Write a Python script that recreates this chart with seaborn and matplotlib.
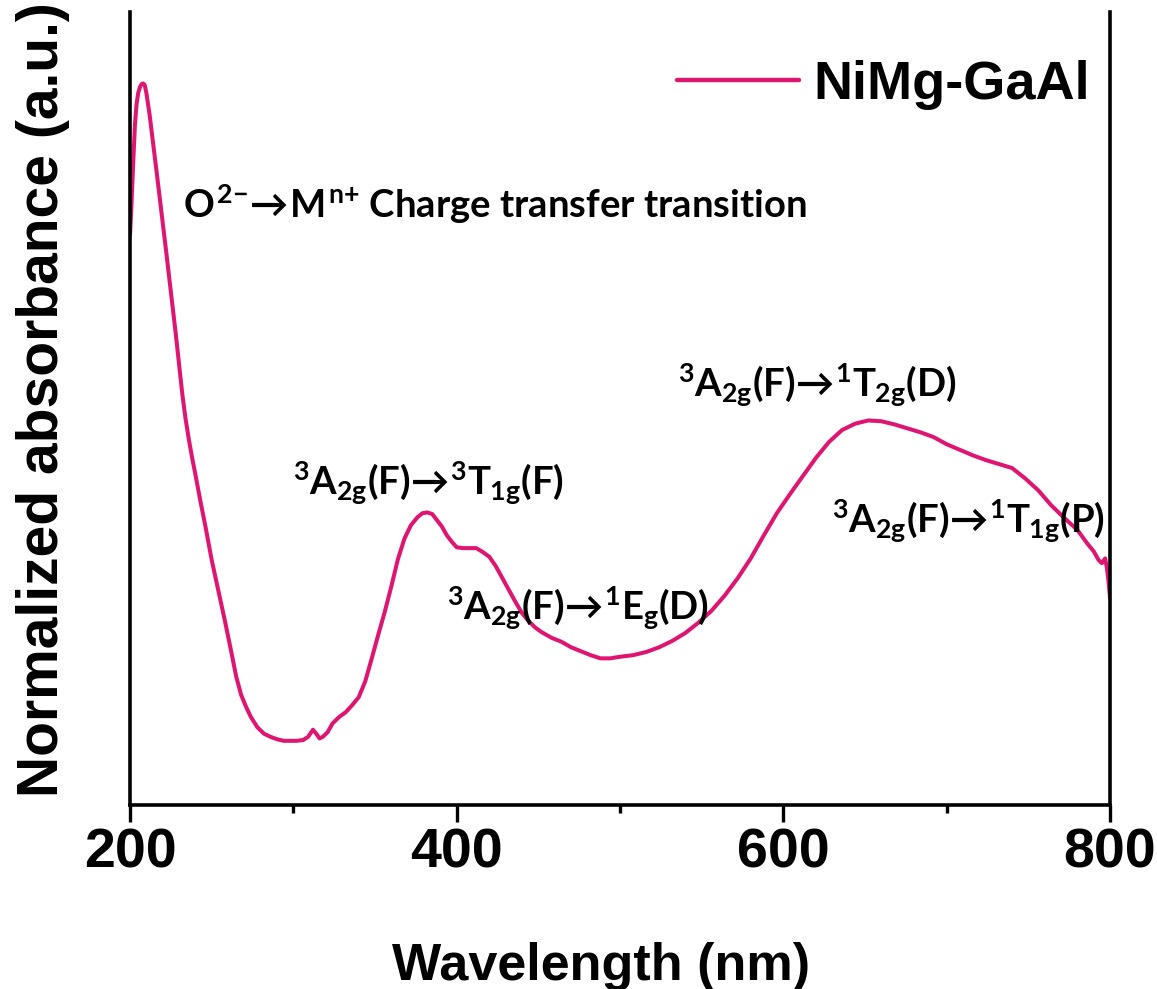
import matplotlib
matplotlib.use("Agg")
import matplotlib.pyplot as plt
from matplotlib import font_manager
import seaborn as sns
import pandas as pd

# UV-vis DRS spectrum of the NiMg-GaAl sample (normalized absorbance)
wavelength = [200, 201, 202, 203, 204, 205, 206, 207, 208, 209, 210, 212, 214, 216,
              218, 220, 222, 224, 226, 228, 230, 232, 234, 236, 238, 240, 243, 246,
              250, 254, 258, 262, 265, 268, 271, 274, 278, 282, 286, 290, 294, 298,
              302, 306, 309, 312, 314, 316, 318, 321, 324, 328, 332, 336, 340, 344,
              348, 352, 356, 360, 364, 368, 372, 376, 379, 382, 385, 388, 391, 394,
              397, 400, 404, 408, 412, 416, 420, 424, 428, 432, 436, 440, 444, 448,
              452, 458, 464, 470, 476, 482, 488, 494, 500, 508, 516, 524, 532, 540,
              548, 556, 564, 572, 580, 588, 596, 604, 612, 620, 628, 636, 644, 652,
              660, 668, 676, 684, 692, 700, 708, 716, 724, 732, 740, 748, 756, 764,
              772, 780, 786, 790, 793, 795, 797, 798, 799, 800]
absorbance = [0.719, 0.763, 0.813, 0.858, 0.884, 0.898, 0.905, 0.909, 0.910, 0.908,
              0.898, 0.870, 0.837, 0.803, 0.769, 0.735, 0.700, 0.665, 0.630, 0.594,
              0.556, 0.518, 0.487, 0.461, 0.438, 0.417, 0.384, 0.353, 0.309, 0.271,
              0.233, 0.193, 0.162, 0.139, 0.124, 0.111, 0.098, 0.090, 0.086, 0.083,
              0.081, 0.081, 0.081, 0.082, 0.086, 0.095, 0.090, 0.084, 0.086, 0.092,
              0.103, 0.111, 0.117, 0.126, 0.136, 0.156, 0.185, 0.215, 0.244, 0.276,
              0.310, 0.336, 0.353, 0.363, 0.368, 0.369, 0.367, 0.359, 0.351, 0.340,
              0.332, 0.325, 0.324, 0.324, 0.324, 0.319, 0.313, 0.301, 0.286, 0.271,
              0.256, 0.242, 0.232, 0.224, 0.218, 0.211, 0.206, 0.199, 0.194, 0.189,
              0.185, 0.185, 0.187, 0.189, 0.193, 0.199, 0.207, 0.217, 0.230, 0.245,
              0.264, 0.286, 0.311, 0.340, 0.368, 0.392, 0.415, 0.438, 0.458, 0.473,
              0.481, 0.485, 0.484, 0.480, 0.475, 0.470, 0.464, 0.455, 0.448, 0.441,
              0.435, 0.430, 0.425, 0.412, 0.397, 0.378, 0.362, 0.347, 0.330, 0.320,
              0.309, 0.305, 0.311, 0.300, 0.284, 0.261]
sample_label = "NiMg-GaAl"

major_ticks = [200, 400, 600, 800]
minor_ticks = [300, 500, 700]

# band assignments: (text, x in nm, y in a.u.)
band_labels = [
    (r"$O^{2{-}}\!\rightarrow\!M^{n{+}}$ Charge transfer transition", 232.4, 0.740),
    (r"${}^{3}A_{2g}(F)\!\rightarrow\!{}^{3}T_{1g}(F)$", 299.7, 0.391),
    (r"${}^{3}A_{2g}(F)\!\rightarrow\!{}^{1}E_{g}(D)$", 393.9, 0.233),
    (r"${}^{3}A_{2g}(F)\!\rightarrow\!{}^{1}T_{2g}(D)$", 535.2, 0.515),
    (r"${}^{3}A_{2g}(F)\!\rightarrow\!{}^{1}T_{1g}(P)$", 630.0, 0.343),
]

line_color = "#DE1672"

sns.set_theme(style="white")
plt.rcParams["font.family"] = ["Liberation Sans", "DejaVu Sans"]
plt.rcParams["font.weight"] = "bold"
plt.rcParams["text.color"] = "black"
plt.rcParams["axes.labelcolor"] = "black"
plt.rcParams["xtick.color"] = "black"
plt.rcParams["ytick.color"] = "black"
plt.rcParams["mathtext.fontset"] = "custom"
plt.rcParams["mathtext.rm"] = "Lato:bold"
plt.rcParams["mathtext.it"] = "Lato:bold"
plt.rcParams["mathtext.bf"] = "Lato:bold"
plt.rcParams["mathtext.sf"] = "Lato:bold"
plt.rcParams["mathtext.fallback"] = "stixsans"

installed = {f.name for f in font_manager.fontManager.ttflist}
narrow = "Liberation Sans Narrow" in installed

df = pd.DataFrame({"Wavelength": wavelength, "Absorbance": absorbance})

fig = plt.figure(figsize=(11.57, 9.89), dpi=100)
ax = fig.add_axes([0.1124, 0.186, 0.847, 0.8018])

sns.lineplot(data=df, x="Wavelength", y="Absorbance", ax=ax, color=line_color,
             linewidth=2.9, label=sample_label)

ax.set_xlim(200, 800)
ax.set_ylim(0, 1.0)
ax.set_xticks(major_ticks)
ax.set_xticks(minor_ticks, minor=True)
ax.set_yticks([])

for side in ["left", "bottom", "right"]:
    ax.spines[side].set_visible(True)
    ax.spines[side].set_color("black")
    ax.spines[side].set_linewidth(2.6)
ax.spines["top"].set_visible(False)

ax.tick_params(axis="x", which="major", direction="out", length=12, width=2.4,
               color="black", labelsize=40, labelcolor="black", pad=4, bottom=True)
ax.tick_params(axis="x", which="minor", direction="out", length=6, width=2.4,
               color="black", bottom=True)
for lab in ax.get_xticklabels():
    lab.set_fontweight("bold")

if narrow:
    ax.set_xlabel("Wavelength (nm)", fontsize=46, fontweight="bold",
                  family="Liberation Sans Narrow", color="black")
else:
    ax.set_xlabel("Wavelength (nm)", fontsize=37.5, fontweight="bold", color="black")
ax.xaxis.set_label_coords(0.481, -0.2207)
ax.xaxis.label.set_verticalalignment("baseline")

ax.set_ylabel("Normalized absorbance (a.u.)", fontsize=41, fontweight="bold",
              color="black")
ax.yaxis.set_label_coords(-0.089, 0.511)
ax.yaxis.label.set_verticalalignment("center")

for text, x, y in band_labels:
    ax.text(x, y, text, fontsize=27.5, fontweight="bold", family="Lato",
            ha="left", va="baseline", color="black")

leg = ax.legend(loc="upper left", bbox_to_anchor=(677 / 1157, 1 - 60 / 989),
                bbox_transform=fig.transFigure, frameon=False, fontsize=39,
                handlelength=2.25, handletextpad=0.27, borderpad=0,
                borderaxespad=0)
for t in leg.get_texts():
    t.set_fontweight("bold")
    t.set_color("black")
for h in leg.get_lines():
    h.set_linewidth(3.2)

fig.savefig("out.png", dpi=100)
